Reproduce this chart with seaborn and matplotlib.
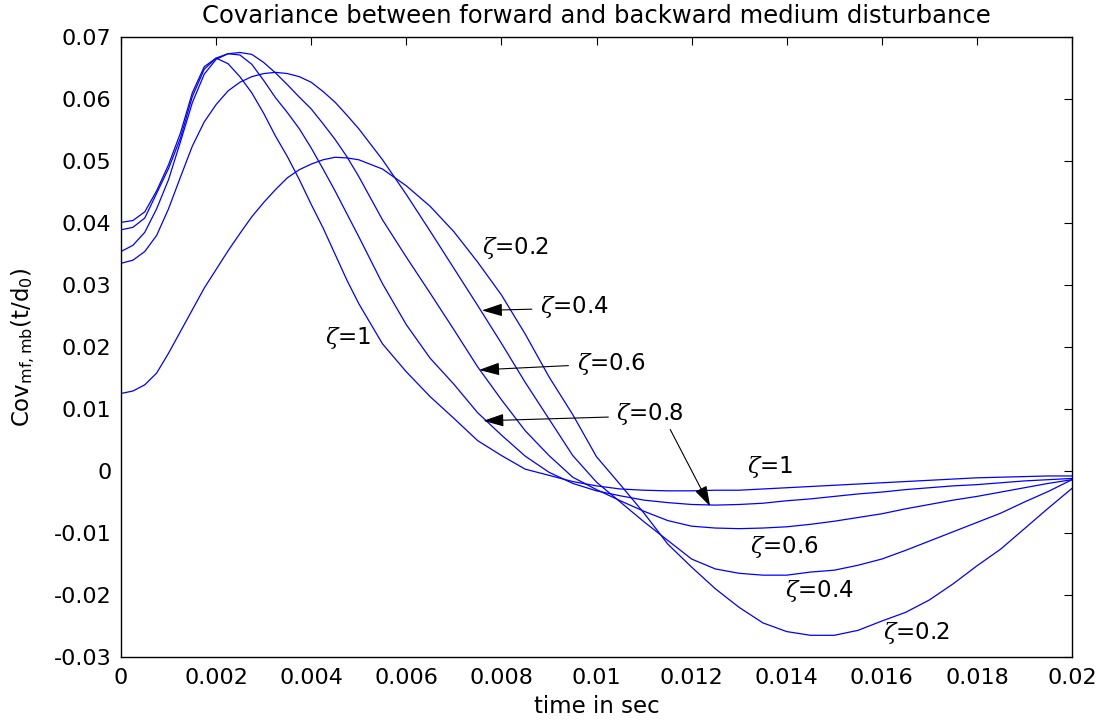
import numpy as np
import pandas as pd
import matplotlib
matplotlib.use("Agg")
import matplotlib.pyplot as plt
import seaborn as sns

# ---------------- data ----------------
# sample times: every 0.25 ms up to 5 ms, then every 0.5 ms
t = [round(i * 0.00025, 6) for i in range(21)] + [round(0.0055 + i * 0.0005, 6) for i in range(30)]

zeta_labels = ["0.2", "0.4", "0.6", "0.8", "1"]

cov_z02 = [0.0125, 0.0129, 0.0139, 0.0158, 0.0190, 0.0225, 0.0260, 0.0295, 0.0325, 0.0355,
           0.0383, 0.0410, 0.0433, 0.0454, 0.0473, 0.0486, 0.0495, 0.0502, 0.0506, 0.0505,
           0.0502,
           0.0487, 0.0460, 0.0427, 0.0386, 0.0337, 0.0284, 0.0221, 0.0152, 0.0091,
           0.0023, -0.0022, -0.0068, -0.0118, -0.0155, -0.0190, -0.0220, -0.0245, -0.0259, -0.0265,
           -0.0265, -0.0257, -0.0242, -0.0228, -0.0208, -0.0182, -0.0153, -0.0126, -0.0093, -0.0060,
           -0.0028]
cov_z04 = [0.0335, 0.0340, 0.0354, 0.0380, 0.0423, 0.0474, 0.0524, 0.0563, 0.0591, 0.0613,
           0.0627, 0.0636, 0.0641, 0.0643, 0.0641, 0.0636, 0.0627, 0.0612, 0.0595, 0.0574,
           0.0552,
           0.0502, 0.0446, 0.0387, 0.0327, 0.0267, 0.0206, 0.0143, 0.0084, 0.0025,
           -0.0018, -0.0050, -0.0082, -0.0112, -0.0142, -0.0158, -0.0165, -0.0168, -0.0168, -0.0163,
           -0.0160, -0.0152, -0.0142, -0.0128, -0.0113, -0.0098, -0.0083, -0.0068, -0.0050, -0.0033,
           -0.0014]
cov_z06 = [0.0354, 0.0364, 0.0385, 0.0423, 0.0470, 0.0531, 0.0594, 0.0640, 0.0664, 0.0673,
           0.0675, 0.0672, 0.0659, 0.0642, 0.0623, 0.0603, 0.0584, 0.0560, 0.0535, 0.0507,
           0.0475,
           0.0405, 0.0345, 0.0287, 0.0228, 0.0168, 0.0115, 0.0065, 0.0025, -0.0010,
           -0.0030, -0.0048, -0.0065, -0.0080, -0.0089, -0.0092, -0.0093, -0.0092, -0.0090, -0.0086,
           -0.0081, -0.0075, -0.0069, -0.0061, -0.0054, -0.0047, -0.0041, -0.0034, -0.0027, -0.0020,
           -0.0014]
cov_z08 = [0.0389, 0.0393, 0.0408, 0.0448, 0.0488, 0.0537, 0.0604, 0.0648, 0.0666, 0.0673,
           0.0671, 0.0656, 0.0630, 0.0602, 0.0578, 0.0552, 0.0521, 0.0487, 0.0452, 0.0415,
           0.0378,
           0.0302, 0.0236, 0.0182, 0.0140, 0.0094, 0.0058, 0.0024, -0.0002, -0.0020,
           -0.0032, -0.0040, -0.0047, -0.0051, -0.0054, -0.0055, -0.0054, -0.0052, -0.0048, -0.0045,
           -0.0041, -0.0037, -0.0034, -0.0030, -0.0027, -0.0024, -0.0022, -0.0019, -0.0016, -0.0014,
           -0.0012]
cov_z10 = [0.0401, 0.0404, 0.0418, 0.0452, 0.0494, 0.0545, 0.0610, 0.0652, 0.0666, 0.0657,
           0.0636, 0.0610, 0.0577, 0.0540, 0.0507, 0.0470, 0.0430, 0.0392, 0.0350, 0.0308,
           0.0270,
           0.0205, 0.0160, 0.0120, 0.0085, 0.0049, 0.0025, 0.0003, -0.0007, -0.0017,
           -0.0024, -0.0029, -0.0031, -0.0032, -0.0032, -0.0031, -0.0031, -0.0029, -0.0027, -0.0025,
           -0.0023, -0.0021, -0.0019, -0.0017, -0.0015, -0.0013, -0.0011, -0.0010, -0.0009, -0.0008,
           -0.0008]

x_ticks = [0, 0.002, 0.004, 0.006, 0.008, 0.01, 0.012, 0.014, 0.016, 0.018, 0.02]
x_tick_labels = ["0", "0.002", "0.004", "0.006", "0.008", "0.01", "0.012", "0.014", "0.016", "0.018", "0.02"]
y_ticks = [-0.03, -0.02, -0.01, 0, 0.01, 0.02, 0.03, 0.04, 0.05, 0.06, 0.07]
y_tick_labels = ["-0.03", "-0.02", "-0.01", "0", "0.01", "0.02", "0.03", "0.04", "0.05", "0.06", "0.07"]

# ---------------- build long table ----------------
series = [cov_z02, cov_z04, cov_z06, cov_z08, cov_z10]
rows = []
for lab, vals in zip(zeta_labels, series):
    for tt, v in zip(t, vals):
        rows.append({"t": tt, "cov": v, "zeta": lab})
df = pd.DataFrame(rows)

# ---------------- style ----------------
sns.set_theme(style="white")
plt.rcParams["font.family"] = ["DejaVu Sans"]
plt.rcParams["mathtext.fontset"] = "custom"
plt.rcParams["mathtext.rm"] = "DejaVu Sans"
plt.rcParams["mathtext.it"] = "DejaVu Serif:italic"
plt.rcParams["mathtext.default"] = "it"

fig = plt.figure(figsize=(11.07, 7.23), dpi=100)
ax = fig.add_axes([121 / 1107, 1 - 657 / 723, (1072 - 121) / 1107, (657 - 37) / 723])

sns.lineplot(data=df, x="t", y="cov", hue="zeta", palette=["#0000ff"] * 5,
             legend=False, linewidth=0.9, ax=ax, sort=False, estimator=None)

ax.set_xlim(0, 0.02)
ax.set_ylim(-0.03, 0.07)
ax.set_xticks(x_ticks)
ax.set_xticklabels(x_tick_labels)
ax.set_yticks(y_ticks)
ax.set_yticklabels(y_tick_labels)
ax.tick_params(direction="in", length=6, width=0.8, top=True, right=True,
               labelsize=16, color="black", labelcolor="black")
ax.tick_params(axis="x", pad=8)
ax.tick_params(axis="y", pad=7)
for s in ax.spines.values():
    s.set_visible(True)
    s.set_color("black")
    s.set_linewidth(1.0)

ax.set_title("Covariance between forward and backward medium disturbance", fontsize=17.5,
             color="black", pad=10)
ax.set_xlabel("time in sec", fontsize=16.5, color="black", labelpad=5)
ax.set_ylabel(r"Cov$_{\mathrm{mf,mb}}$(t/d$_{\mathrm{0}}$)", fontsize=16.5, color="black",
              labelpad=12)

# ---------------- annotations ----------------
fs = 16.5
def zlab(x, y, val):
    ax.text(x, y, r"$\zeta$=" + val, fontsize=fs, ha="left", va="center", color="black")

arrow_kw = dict(arrowstyle="-|>,head_length=0.9,head_width=0.28", color="black",
                lw=0.8, mutation_scale=14, shrinkA=0, shrinkB=0)

zlab(0.0076, 0.0360, "0.2")
zlab(0.00881, 0.0265, "0.4")
ax.annotate("", xy=(0.00759, 0.0259), xytext=(0.00864, 0.0261), arrowprops=arrow_kw)
zlab(0.00958, 0.0172, "0.6")
ax.annotate("", xy=(0.00753, 0.0163), xytext=(0.00941, 0.0170), arrowprops=arrow_kw)
zlab(0.01042, 0.0092, "0.8")
ax.annotate("", xy=(0.00762, 0.0081), xytext=(0.01025, 0.0087), arrowprops=arrow_kw)
ax.annotate("", xy=(0.01239, -0.0057), xytext=(0.01155, 0.0067), arrowprops=arrow_kw)
zlab(0.00429, 0.0214, "1")
zlab(0.01316, 0.0007, "1")
zlab(0.01323, -0.0122, "0.6")
zlab(0.01396, -0.0193, "0.4")
zlab(0.01603, -0.0261, "0.2")

fig.savefig("out.png", dpi=100, facecolor="white")
